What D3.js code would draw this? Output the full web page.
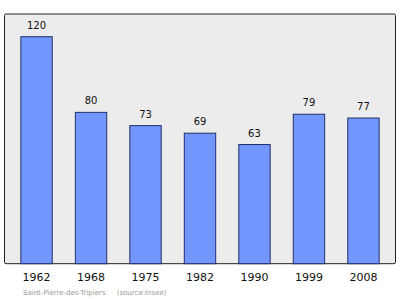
<!DOCTYPE html>
<html>
<head>
    <meta charset="utf-8">
    <style>
        body { margin: 0; background: #fff; }
        text { font-family: "DejaVu Sans", sans-serif; }
    </style>
</head>
<body>
    <script src="https://d3js.org/d3.v7.min.js"></script>
    <script>
        // population by census year
        var years = ["1962", "1968", "1975", "1982", "1990", "1999", "2008"];
        var population = [120, 80, 73, 69, 63, 79, 77];
        var commune = "Saint-Pierre-des-Tripiers";
        var source = "(source:Insee)";

        var width = 400, height = 299;
        var plot = { left: 4.5, top: 14, right: 395.5, bottom: 263.7 };

        var svg = d3.select("body").append("svg")
            .attr("width", width)
            .attr("height", height);

        var x = d3.scaleBand()
            .domain(years)
            .range([plot.left, plot.right])
            .paddingInner(0.424)
            .paddingOuter(0.3);

        var y = d3.scaleLinear()
            .domain([0, 120])
            .range([plot.bottom, 36.7]);

        // plot background
        svg.append("rect")
            .attr("x", plot.left)
            .attr("y", plot.top)
            .attr("width", plot.right - plot.left)
            .attr("height", plot.bottom - plot.top)
            .attr("rx", 1.5)
            .attr("fill", "#ececec")
            .attr("stroke", "#222")
            .attr("stroke-width", 1);

        var data = years.map(function (d, i) { return { year: d, value: population[i] }; });

        svg.selectAll(".bar")
            .data(data)
            .enter().append("rect")
            .attr("class", "bar")
            .attr("x", function (d) { return x(d.year); })
            .attr("y", function (d) { return y(d.value); })
            .attr("width", x.bandwidth())
            .attr("height", function (d) { return plot.bottom - y(d.value); })
            .attr("fill", "#7396ff")
            .attr("stroke", "#23306a")
            .attr("stroke-width", 1);

        // value labels
        svg.selectAll(".val")
            .data(data)
            .enter().append("text")
            .attr("class", "val")
            .attr("x", function (d) { return x(d.year) + x.bandwidth() / 2; })
            .attr("y", function (d) { return y(d.value) - 8; })
            .attr("text-anchor", "middle")
            .style("font-size", "10px")
            .attr("fill", "#111")
            .text(function (d) { return d.value; });

        // year axis
        var axis = svg.append("g")
            .attr("transform", "translate(0," + plot.bottom + ")")
            .call(d3.axisBottom(x).tickSize(0).tickPadding(9.5));
        axis.select(".domain").remove();
        axis.selectAll("text")
            .style("font-size", "11px")
            .style("font-family", "'DejaVu Sans', sans-serif")
            .attr("fill", "#111");

        // footer
        svg.append("text")
            .attr("x", 23)
            .attr("y", 295)
            .style("font-size", "7px")
            .attr("fill", "#999")
            .text(commune + "     " + source)
            .attr("xml:space", "preserve");
    </script>
</body>
</html>
